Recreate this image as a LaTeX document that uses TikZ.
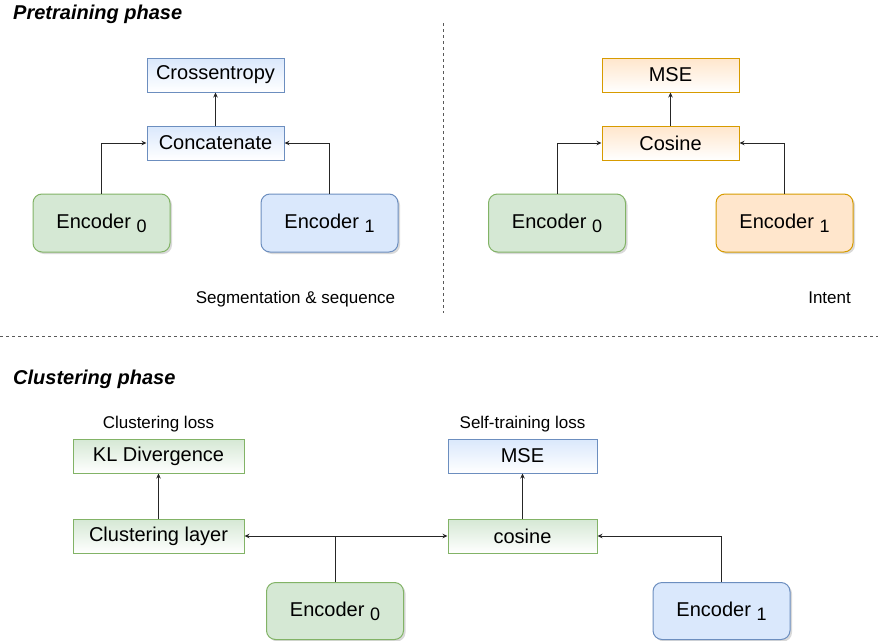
\documentclass[tikz,border=0pt]{standalone}
\usepackage{fontspec}
\setmainfont{Liberation Sans}
\usetikzlibrary{arrows.meta,shadows}
\definecolor{gfill}{HTML}{D5E8D4}
\definecolor{gline}{HTML}{82B366}
\definecolor{bfill}{HTML}{DAE8FC}
\definecolor{bline}{HTML}{6C8EBF}
\definecolor{ofill}{HTML}{FFE6CC}
\definecolor{oline}{HTML}{D79B00}
\newcommand{\enc}[1]{Encoder \raisebox{-4pt}{\fontsize{18}{18}\selectfont #1}}
\tikzset{
  boxtxt/.style={font=\fontsize{20}{24}\selectfont},
  gbox/.style={boxtxt, draw=gline, top color=gfill, bottom color=white, line width=1pt, minimum height=34pt, inner sep=0pt},
  bbox/.style={boxtxt, draw=bline, top color=bfill, bottom color=white, line width=1pt, minimum height=34pt, inner sep=0pt},
  obox/.style={boxtxt, draw=oline, top color=ofill, bottom color=white, line width=1pt, minimum height=34pt, inner sep=0pt},
  encbox/.style={boxtxt, rounded corners=9pt, line width=1pt, minimum width=137pt, minimum height=58pt, inner sep=0pt,
     drop shadow={shadow xshift=2pt, shadow yshift=-2pt, opacity=0.25, fill=black!60}},
  genc/.style={encbox, draw=gline, fill=gfill},
  benc/.style={encbox, draw=bline, fill=bfill},
  oenc/.style={encbox, draw=oline, fill=ofill},
  conn/.style={draw=black!85, line width=1pt, -{Stealth[length=5pt,width=4.5pt]}},
  plainline/.style={draw=black!85, line width=1pt},
  sep/.style={draw=black!65, line width=1pt, dash pattern=on 3pt off 3pt},
  heading/.style={font=\fontsize{20}{24}\selectfont\bfseries\itshape, inner sep=0pt},
  lbl/.style={font=\fontsize{17}{20}\selectfont, inner sep=0pt},
}
\begin{document}
\begin{tikzpicture}[x=1pt,y=-1pt]
\useasboundingbox (0,0) rectangle (878,640);

% separators
\coordinate (v1) at (443,23);
\coordinate (v2) at (443,313);
\draw[sep] (v1) -- (v2);
\coordinate (h1) at (0,336);
\coordinate (h2) at (878,336);
\draw[sep] (h1) -- (h2);

% headings
\node[heading, anchor=base west] (hpre) at (13,19) {Pretraining phase};
\node[heading, anchor=base west] (hclu) at (13,384) {Clustering phase};

% ---- top left
\node[bbox, minimum width=137pt] (cross) at (215.5,75) {Crossentropy};
\node[bbox, minimum width=137pt] (concat) at (215.5,143) {Concatenate};
\node[genc] (a0) at (101.5,223) {\enc{0}};
\node[benc] (a1) at (329.5,223) {\enc{1}};
\node[lbl, anchor=base] (seg) at (295.5,303) {Segmentation \& sequence};
\draw[conn] (a0.north) |- (concat.west);
\draw[conn] (a1.north) |- (concat.east);
\draw[conn] (concat.north) -- (cross.south);

% ---- top right
\node[obox, minimum width=137pt] (mse) at (670.5,75) {MSE};
\node[obox, minimum width=137pt] (cos) at (670.5,143) {Cosine};
\node[genc] (b0) at (557,223) {\enc{0}};
\node[oenc] (b1) at (784.5,223) {\enc{1}};
\node[lbl, anchor=base east] (intent) at (851,303) {Intent};
\draw[conn] (b0.north) |- (cos.west);
\draw[conn] (b1.north) |- (cos.east);
\draw[conn] (cos.north) -- (mse.south);

% ---- bottom
\node[lbl, anchor=base] (closs) at (158.5,428) {Clustering loss};
\node[gbox, minimum width=171pt] (kl) at (158.5,456) {KL Divergence};
\node[gbox, minimum width=171pt] (cl) at (158.5,536) {Clustering layer};
\node[lbl, anchor=base] (sloss) at (522.5,428) {Self-training loss};
\node[bbox, minimum width=149pt] (mse2) at (522.5,456) {MSE};
\node[gbox, minimum width=149pt] (cos2) at (522.5,536) {cosine};
\node[genc, minimum height=57pt] (c0) at (335,611) {\enc{0}};
\node[benc, minimum height=57pt] (c1) at (721.5,611) {\enc{1}};
\coordinate (j) at (c0.north |- cl.east);
\draw[plainline] (c0.north) -- (j);
\draw[conn] (j) -- (cl.east);
\draw[conn] (j) -- (cos2.west);
\draw[conn] (c1.north) |- (cos2.east);
\draw[conn] (cl.north) -- (kl.south);
\draw[conn] (cos2.north) -- (mse2.south);
\end{tikzpicture}
\end{document}
